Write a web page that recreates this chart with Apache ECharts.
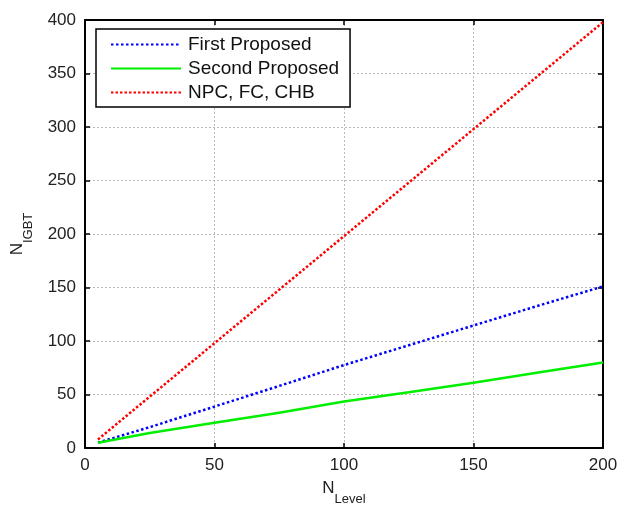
<!DOCTYPE html>
<html>
<head>
<meta charset="utf-8">
<script src="https://cdn.jsdelivr.net/npm/echarts@6/dist/echarts.min.js"></script>
<style>html,body{margin:0;padding:0;background:#fff}#c{width:632px;height:511px}</style>
</head>
<body>
<div id="c"></div>
<script>
var nLevel = [5, 25, 50, 75, 100, 125, 150, 175, 200];
var firstProposed = [5, 19.5, 38.7, 58, 77.5, 96, 114.5, 133, 151];
var secondProposed = [5, 14, 23.5, 33, 43.5, 52, 61, 70.5, 80];
var npcFcChb = [8, 48, 98, 148, 198, 248, 298, 348, 398];
var seriesNames = ['First Proposed', 'Second Proposed', 'NPC, FC, CHB'];
var xTicks = [0, 50, 100, 150, 200];
var yTicks = [0, 50, 100, 150, 200, 250, 300, 350, 400];

function pairs(ys) { return nLevel.map(function (x, i) { return [x, ys[i]]; }); }

var font = 'Liberation Sans, Arial, sans-serif';
var axisCommon = {
  type: 'value',
  axisLine: { show: true, onZero: false, lineStyle: { color: '#000', width: 2 } },
  axisTick: { show: true, inside: true, length: 5, lineStyle: { color: '#000', width: 1.5 } },
  axisLabel: { color: '#222', fontSize: 17, fontFamily: font, margin: 9 },
  splitLine: { show: true, lineStyle: { color: '#b8b8b8', type: [2, 2], width: 1 } }
};
function ax(extra) { return Object.assign({}, JSON.parse(JSON.stringify(axisCommon)), extra); }

var chart = echarts.init(document.getElementById('c'));
chart.setOption({
  animation: false,
  backgroundColor: '#fff',
  grid: { left: 84, right: 29, top: 20, bottom: 63, containLabel: false },
  legend: {
    data: seriesNames,
    orient: 'vertical',
    left: 96, top: 29,
    itemWidth: 70, itemHeight: 18, itemGap: 5,
    padding: [6, 11, 5, 14],
    backgroundColor: '#fff',
    borderColor: '#000', borderWidth: 1.5,
    itemStyle: { opacity: 0 },
    textStyle: { fontSize: 19, color: '#111', fontFamily: font, padding: [0, 0, 0, 2] }
  },
  xAxis: [
    ax({ min: xTicks[0], max: xTicks[xTicks.length - 1], interval: 50, position: 'bottom',
      name: '{n|N}{s|Level}', nameLocation: 'middle', nameGap: 31,
      nameTextStyle: { fontFamily: font, color: '#222', rich: {
        n: { fontSize: 17, fontFamily: font, color: '#222', verticalAlign: 'top', lineHeight: 26 },
        s: { fontSize: 13, fontFamily: font, color: '#222', verticalAlign: 'bottom', lineHeight: 12, padding: [14, 0, 0, 0] } } } }),
    ax({ min: xTicks[0], max: xTicks[xTicks.length - 1], interval: 50, position: 'top',
      axisLabel: { show: false }, splitLine: { show: false } })
  ],
  yAxis: [
    ax({ min: yTicks[0], max: yTicks[yTicks.length - 1], interval: 50, position: 'left',
      name: '{n|N}{s|IGBT}', nameLocation: 'middle', nameGap: 50, nameRotate: 90,
      nameTextStyle: { fontFamily: font, color: '#222', rich: {
        n: { fontSize: 17, fontFamily: font, color: '#222', verticalAlign: 'top', lineHeight: 26 },
        s: { fontSize: 13, fontFamily: font, color: '#222', verticalAlign: 'bottom', lineHeight: 12, padding: [14, 0, 0, 0] } } } }),
    ax({ min: yTicks[0], max: yTicks[yTicks.length - 1], interval: 50, position: 'right',
      axisLabel: { show: false }, splitLine: { show: false } })
  ],
  series: [
    { name: seriesNames[0], type: 'line', data: pairs(firstProposed), symbol: 'none', color: '#0000ff',
      lineStyle: { color: '#0000ff', width: 2.5, type: [2.5, 2.5] } },
    { name: seriesNames[1], type: 'line', data: pairs(secondProposed), symbol: 'none', color: '#00ee00',
      lineStyle: { color: '#00ee00', width: 2.5, type: 'solid' } },
    { name: seriesNames[2], type: 'line', data: pairs(npcFcChb), symbol: 'none', color: '#ff0000',
      lineStyle: { color: '#ff0000', width: 2.5, type: [2.5, 2] } }
  ]
});
</script>
</body>
</html>
